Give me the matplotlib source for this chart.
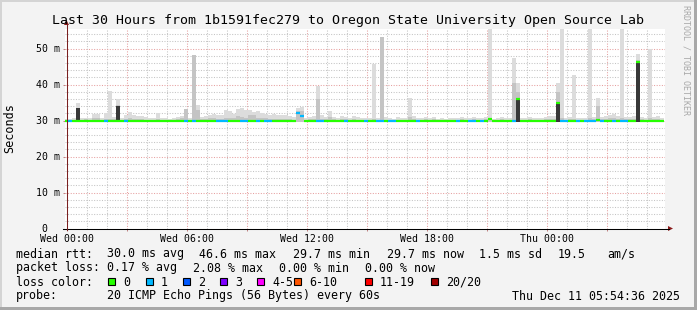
import numpy as np
import matplotlib.pyplot as plt
from matplotlib.lines import Line2D
from matplotlib.patches import Rectangle, Polygon

W, H = 697, 310
DPI = 100
MONO = 'DejaVu Sans Mono'
FS = 8.4

title = 'Last 30 Hours from 1b1591fec279 to Oregon State University Open Source Lab'

# 12 minute bins, time in hours after Wed 00:00
bin_start = -0.15
bin_width = 0.2
smoke_floor = 29.5

# highest ping per bin (ms), light smoke
smoke_max = [
    30.3, 30.5, 30.6, 34.9, 30.6, 30.8, 30.8, 31.8, 31.8, 30.6,
    32.0, 38.3, 31.0, 35.9, 30.8, 31.5, 32.3, 31.4, 31.2, 31.2,
    31.0, 30.8, 30.6, 32.2, 30.6, 30.8, 30.5, 30.8, 31.0, 31.2,
    33.3, 30.8, 48.2, 34.3, 31.0, 31.3, 31.6, 31.8, 31.6, 31.4,
    32.9, 32.6, 31.8, 33.2, 33.5, 33.0, 33.0, 32.5, 32.6, 32.2,
    31.8, 31.6, 31.7, 31.5, 31.4, 31.4, 31.3, 31.0, 33.5, 33.8,
    30.8, 31.0, 31.2, 39.7, 31.6, 31.0, 32.7, 31.0, 30.8, 31.2,
    31.0, 30.8, 31.2, 31.0, 30.7, 30.8, 30.6, 45.6, 30.8, 53.3,
    31.0, 30.6, 30.5, 31.0, 30.6, 30.8, 36.3, 31.2, 30.8, 30.6,
    31.0, 30.6, 31.1, 30.5, 30.6, 30.5, 30.8, 30.8, 30.7, 31.0,
    30.6, 30.8, 31.0, 30.8, 30.6, 31.0, 60.0, 30.4, 30.6, 31.0,
    30.8, 30.6, 47.4, 40.5, 30.8, 30.6, 31.0, 30.6, 30.8, 30.6,
    31.0, 31.2, 31.2, 40.3, 60.0, 30.8, 31.0, 42.6, 30.8, 30.6,
    30.8, 60.0, 31.0, 36.2, 31.0, 31.2, 31.6, 31.8, 31.2, 60.0,
    31.0, 31.0, 31.2, 48.4, 31.0, 30.8, 50.0, 31.0, 31.2, 30.8,
]

# upper edge of the denser smoke (ms)
smoke_mid = [
    30.0, 30.1, 30.2, 33.6, 30.2, 30.3, 30.2, 30.6, 30.6, 30.2,
    30.4, 30.4, 30.3, 34.4, 30.2, 30.4, 30.6, 30.4, 30.3, 30.3,
    30.2, 30.2, 30.1, 30.4, 30.1, 30.2, 30.1, 30.2, 30.3, 30.6,
    33.3, 30.2, 48.2, 33.0, 30.3, 30.4, 30.6, 30.6, 30.5, 30.4,
    30.8, 30.6, 30.6, 31.2, 31.0, 30.8, 31.4, 31.4, 30.8, 30.6,
    30.6, 30.5, 30.4, 30.4, 30.4, 30.3, 30.3, 30.2, 32.6, 32.6,
    30.2, 30.3, 30.3, 36.0, 30.4, 30.3, 31.0, 30.3, 30.2, 30.4,
    30.3, 30.2, 30.3, 30.2, 30.1, 30.2, 30.1, 30.4, 30.2, 53.3,
    30.2, 30.1, 30.1, 30.2, 30.1, 30.2, 31.0, 30.4, 30.2, 30.1,
    30.3, 30.1, 30.4, 30.1, 30.1, 30.1, 30.2, 30.2, 30.2, 30.3,
    30.1, 30.2, 30.3, 30.2, 30.1, 30.3, 30.4, 30.0, 30.1, 30.3,
    30.2, 30.1, 40.3, 38.0, 30.2, 30.1, 30.3, 30.1, 30.2, 30.1,
    30.3, 30.4, 30.4, 38.0, 30.6, 30.2, 30.3, 30.4, 30.2, 30.1,
    30.2, 30.6, 30.3, 34.0, 30.3, 30.4, 30.6, 30.6, 30.4, 30.6,
    30.3, 30.3, 30.4, 46.8, 30.3, 30.2, 30.6, 30.3, 30.4, 30.2,
]

# median rtt per bin (ms)
median = [
    29.8, 29.8, 29.8, 29.8, 29.8, 29.8, 29.8, 29.8, 29.8, 29.8,
    29.8, 29.8, 29.8, 29.8, 29.8, 29.8, 29.8, 29.8, 29.8, 29.8,
    29.8, 29.8, 29.8, 29.8, 29.8, 29.8, 29.8, 29.8, 29.8, 29.8,
    29.8, 29.8, 29.8, 29.8, 29.8, 29.8, 29.8, 29.8, 29.8, 29.8,
    29.8, 29.8, 29.8, 29.8, 29.8, 29.8, 29.8, 29.8, 29.8, 29.8,
    29.8, 29.8, 29.8, 29.8, 29.8, 29.8, 29.8, 29.8, 32.2, 31.2,
    29.8, 29.8, 29.8, 29.8, 29.8, 29.8, 29.8, 29.8, 29.8, 29.8,
    29.8, 29.8, 29.8, 29.8, 29.8, 29.8, 29.8, 29.8, 29.8, 29.8,
    29.8, 29.8, 29.8, 29.8, 29.8, 29.8, 29.8, 29.8, 29.8, 29.8,
    29.8, 29.8, 29.8, 29.8, 29.8, 29.8, 29.8, 29.8, 29.8, 29.8,
    29.8, 29.8, 29.8, 29.8, 29.8, 29.8, 30.4, 29.8, 29.8, 29.8,
    29.8, 29.8, 29.8, 36.0, 29.8, 29.8, 29.8, 29.8, 29.8, 29.8,
    29.8, 29.8, 29.8, 34.8, 29.8, 29.8, 29.8, 29.8, 29.8, 29.8,
    29.8, 29.8, 29.8, 30.1, 29.8, 29.8, 29.8, 29.8, 29.8, 29.8,
    29.8, 29.8, 29.8, 46.3, 29.8, 29.8, 29.8, 29.8, 29.8, 29.8,
]

# lost pings (of 20) per bin
loss = [
    0, 1, 0, 0, 0, 0, 0, 0, 0, 0,
    1, 0, 0, 0, 0, 1, 0, 0, 0, 0,
    0, 0, 0, 0, 0, 0, 0, 0, 0, 0,
    1, 0, 1, 0, 0, 0, 0, 0, 1, 1,
    1, 0, 0, 0, 1, 1, 0, 0, 1, 0,
    1, 1, 0, 0, 0, 0, 0, 0, 1, 1,
    0, 0, 0, 1, 1, 0, 0, 0, 0, 0,
    1, 0, 0, 0, 0, 1, 0, 0, 1, 1,
    0, 1, 1, 0, 0, 0, 0, 0, 1, 0,
    0, 0, 0, 0, 0, 0, 0, 0, 1, 0,
    0, 1, 1, 0, 1, 0, 0, 0, 0, 0,
    0, 0, 1, 0, 0, 0, 0, 0, 0, 0,
    0, 0, 0, 0, 1, 1, 0, 0, 1, 0,
    1, 1, 1, 0, 1, 0, 0, 1, 0, 1,
    1, 0, 0, 0, 0, 0, 0, 0, 0, 0,
]

# bins where most pings sit well above the floor
dark_bins = [3, 13, 113, 123, 143]
dark_top = [33.4, 33.9, 36.0, 34.8, 46.3]

loss_labels = ['0', '1', '2', '3', '4-5', '6-10', '11-19', '20/20']
loss_colors = ['#26ff00', '#00b8ff', '#0059ff', '#7e00ff',
               '#ff00ff', '#ff5500', '#ff0000', '#a10000']
loss_box_x = [108, 146, 183, 220, 257, 294, 365, 431]

xtick_pos = [0, 3, 6, 9, 12, 15, 18, 21, 24, 27]
xtick_labels = ['Wed 00:00', '', 'Wed 06:00', '', 'Wed 12:00', '',
                'Wed 18:00', '', 'Thu 00:00', '']
ytick_pos = [0, 10, 20, 30, 40, 50]
ytick_labels = ['0  ', '10 m', '20 m', '30 m', '40 m', '50 m']

rtt_stats = [(16, 'median rtt:'), (107, '30.0 ms avg'), (199, '46.6 ms max'),
             (293, '29.7 ms min'), (387, '29.7 ms now'), (479, '1.5 ms sd'),
             (558, '19.5'), (607, 'am/s')]
loss_stats = [(16, 'packet loss:'), (107, '0.17 % avg'), (193, '2.08 % max'),
              (279, '0.00 % min'), (365, '0.00 % now')]


def fx(x):
    return x / W


def fy(y):
    return 1 - y / H


def loss_index(n):
    if n <= 3:
        return n
    if n <= 5:
        return 4
    if n <= 10:
        return 5
    if n <= 19:
        return 6
    return 7


fig = plt.figure(figsize=(W / DPI, H / DPI), dpi=DPI, facecolor='#f3f3f3')
ax = fig.add_axes([fx(65.2), fy(228.5), 600 / W, 200 / H])
ax.set_facecolor('white')
ax.set_xlim(-0.09, 29.91)
ax.set_ylim(0, 200 / 3.6)
ax.set_axisbelow(True)

lefts = bin_start + bin_width * np.arange(len(median))
ax.bar(lefts, np.array(smoke_max) - smoke_floor, bottom=smoke_floor, width=bin_width,
       align='edge', color='#dcdcdc', linewidth=0, zorder=2)
ax.bar(lefts, np.array(smoke_mid) - smoke_floor, bottom=smoke_floor, width=bin_width,
       align='edge', color='#c4c4c4', linewidth=0, zorder=2)
ax.bar(lefts[dark_bins], np.array(dark_top) - smoke_floor, bottom=smoke_floor,
       width=bin_width, align='edge', color='#383838', linewidth=0, zorder=3)
ax.hlines(median, lefts, lefts + bin_width,
          colors=[loss_colors[loss_index(n)] for n in loss],
          linewidth=1.6, capstyle='butt', zorder=4)

# grid
ax.set_xticks(xtick_pos)
ax.set_xticklabels(xtick_labels, fontfamily=MONO, fontsize=7.1)
ax.set_xticks(np.arange(0, 30, 1), minor=True)
ax.set_yticks(ytick_pos)
ax.set_yticklabels(ytick_labels, fontfamily=MONO, fontsize=7.1)
ax.set_yticks(np.arange(0, 56, 2), minor=True)
ax.grid(which='major', color='#e6a0a0', linestyle=(0, (1, 1.5)), linewidth=0.75)
ax.grid(which='minor', color='#c4c4c4', linestyle=(0, (1, 1.5)), linewidth=0.75)
ax.tick_params(which='major', length=1.5, width=0.7, color='#c08080', pad=2.5)
ax.tick_params(which='minor', length=0)
for s in ax.spines.values():
    s.set_visible(False)

# axes with arrows
fig.add_artist(Line2D([fx(62.5), fx(669)], [fy(228.5), fy(228.5)], color='black', lw=0.75))
fig.add_artist(Line2D([fx(66.5), fx(66.5)], [fy(230), fy(24)], color='#7a2020', lw=0.75))
fig.add_artist(Polygon([(fx(668), fy(226)), (fx(668), fy(231)), (fx(673), fy(228.5))],
                       closed=True, color='#8b1a1a', lw=0))
fig.add_artist(Polygon([(fx(64), fy(25)), (fx(69), fy(25)), (fx(66.5), fy(20))],
                       closed=True, color='#8b1a1a', lw=0))

# texts
fig.text(fx(348), fy(24), title, ha='center', va='baseline', fontfamily=MONO, fontsize=9.5)
fig.text(fx(10), fy(128), 'Seconds', rotation=90, ha='center', va='center',
         fontfamily=MONO, fontsize=8.5)
fig.text(fx(686), fy(5), 'RRDTOOL / TOBI OETIKER', rotation=270, ha='center', va='top',
         fontfamily=MONO, fontsize=6, color='#a8a8a8')

for x, s in rtt_stats:
    fig.text(fx(x), fy(257.5), s, ha='left', va='baseline', fontfamily=MONO, fontsize=FS)
for x, s in loss_stats:
    fig.text(fx(x), fy(271.5), s, ha='left', va='baseline', fontfamily=MONO, fontsize=FS)
fig.text(fx(16), fy(285.5), 'loss color:', ha='left', va='baseline', fontfamily=MONO, fontsize=FS)
for x, lab, c in zip(loss_box_x, loss_labels, loss_colors):
    fig.add_artist(Rectangle((fx(x), fy(285)), 7 / W, 7 / H, facecolor=c,
                             edgecolor='black', lw=0.8))
    fig.text(fx(x + 15), fy(285.5), lab, ha='left', va='baseline', fontfamily=MONO, fontsize=FS)
fig.text(fx(16), fy(299.5), 'probe:', ha='left', va='baseline', fontfamily=MONO, fontsize=FS)
fig.text(fx(107), fy(299.5), '20 ICMP Echo Pings (56 Bytes) every 60s', ha='left',
         va='baseline', fontfamily=MONO, fontsize=FS)
fig.text(fx(680), fy(299.5), 'Thu Dec 11 05:54:36 2025', ha='right', va='baseline',
         fontfamily=MONO, fontsize=FS)

# frame
fig.add_artist(Rectangle((0, fy(2)), 1, 2 / H, color='#d4d4d4', lw=0))
fig.add_artist(Rectangle((0, 0), 2 / W, 1, color='#d4d4d4', lw=0))
fig.add_artist(Rectangle((0, 0), 1, 3 / H, color='#a8a8a8', lw=0))
fig.add_artist(Rectangle((fx(694), 0), 3 / W, 1, color='#a8a8a8', lw=0))

fig.savefig('out.png', dpi=DPI, facecolor=fig.get_facecolor())
